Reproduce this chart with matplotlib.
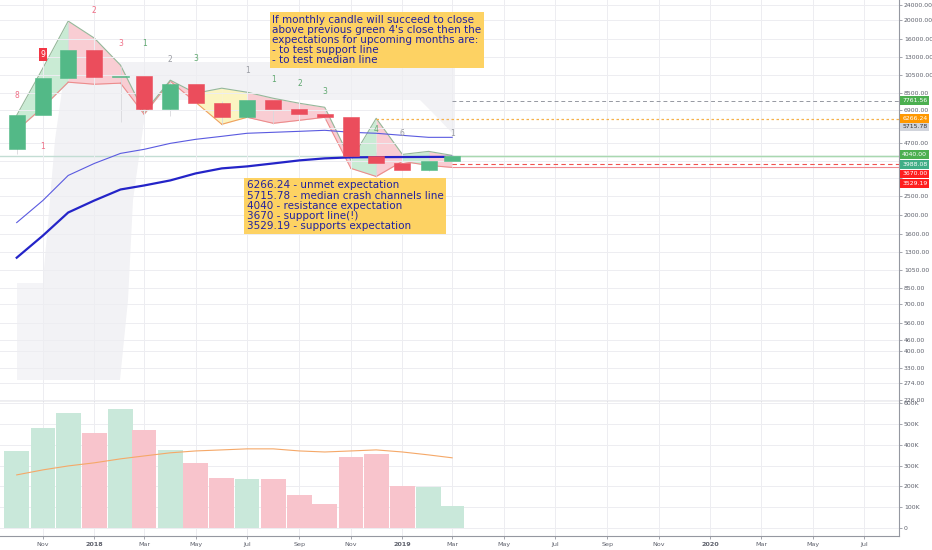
import matplotlib
matplotlib.use('Agg')
import matplotlib.pyplot as plt
import matplotlib.dates as mdates
from matplotlib.ticker import FixedLocator, NullLocator
from matplotlib.patches import Polygon
import datetime as dt

# ---------------- data ----------------
months = ['2017-10', '2017-11', '2017-12', '2018-01', '2018-02', '2018-03',
          '2018-04', '2018-05', '2018-06', '2018-07', '2018-08', '2018-09',
          '2018-10', '2018-11', '2018-12', '2019-01', '2019-02', '2019-03']
opens = [4360, 6520, 10100, 14100, 10200, 10350, 7000, 9400, 7500, 6400, 7780,
         7050, 6650, 6360, 4010, 3720, 3420, 3790]
closes = [6520, 10100, 14100, 10200, 10350, 7000, 9400, 7500, 6400, 7780, 7050,
          6650, 6360, 4010, 3720, 3420, 3790, 4040]
highs = [6470, 11400, 19700, 17100, 11700, 11600, 9750, 9950, 7750, 8480, 7760,
         7400, 7000, 6530, 4230, 4070, 4200, 4090]
lows = [4110, 5600, 10800, 9100, 6000, 6600, 6450, 7050, 5780, 6070, 5880,
        6100, 6180, 3650, 3140, 3400, 3390, 3730]
volumes = [370000, 480000, 553000, 457000, 572000, 471000, 375000, 312000,
           240000, 236000, 236000, 159000, 115000, 341000, 356000, 202000,
           197000, 106000]
volume_ma = [255000, 279000, 298000, 313000, 332000, 346000, 361000, 370000,
             375000, 380000, 380000, 370000, 365000, 370000, 375000, 365000,
             351000, 337000]
band_upper = [6520, 11380, 19850, 16230, 11790, 6755, 9870, 8460, 8980, 8560,
              7970, 7515, 7165, 3825, 6290, 4105, 4255, 4058]
band_lower = [5458, 7165, 9640, 9410, 9530, 6598, 9754, 7605, 5860, 6365, 5930,
              6145, 6365, 3480, 3163, 3780, 3605, 3520]
band_trend = ['up', 'up', 'down', 'down', 'down', 'up', 'down', 'flat', 'flat',
              'down', 'down', 'down', 'down', 'up', 'down', 'up', 'down']
median_line = [1834, 2381, 3201, 3690, 4155, 4359, 4678, 4906, 5083, 5270, 5331,
               5393, 5458, 5331, 5270, 5143, 5023, 5023]
support_line = [1211, 1572, 2066, 2381, 2712, 2844, 3019, 3279, 3480, 3563, 3690,
                3825, 3917, 3965, 3975, 3980, 3985, 3988]
count_idx = [0, 1, 1, 3, 4, 5, 6, 7, 9, 10, 11, 12, 14, 15, 17]
count_text = ['8', '9', '1', '2', '3', '1', '2', '3', '1', '1', '2', '3', '4', '6', '1']
count_price = [8260, 13430, 4515, 22620, 15300, 15300, 12660, 12800, 11110, 9990,
               9530, 8660, 5525, 5270, 5270]
count_kind = ['sell', 'sellbox', 'sell', 'sell', 'sell', 'buy', 'neutral', 'buy',
              'neutral', 'buy', 'buy', 'buy', 'buy', 'neutral', 'neutral']
price_ticks = [24000, 20000, 16000, 13000, 10500, 8500, 6900, 5600, 4700, 3800,
               3100, 2500, 2000, 1600, 1300, 1050, 850, 700, 560, 460, 400, 330,
               274, 226]
hidden_ticks = [5600, 3800, 3100]   # covered by level labels in the reference
vol_ticks = [0, 100000, 200000, 300000, 400000, 500000, 600000]
vol_tick_labels = ['0', '100K', '200K', '300K', '400K', '500K', '600K']
level_values = [7761.56, 6266.24, 5715.78, 4040.00, 3988.08, 3670.00, 3529.19]
level_label_shift_px = [0, 0, -0.5, 1, -7.5, -10, -16]
x_tick_months = ['2017-11', '2018-01', '2018-03', '2018-05', '2018-07', '2018-09',
                 '2018-11', '2019-01', '2019-03', '2019-05', '2019-07', '2019-09',
                 '2019-11', '2020-01', '2020-03', '2020-05', '2020-07']
x_tick_labels = ['Nov', '2018', 'Mar', 'May', 'Jul', 'Sep', 'Nov', '2019', 'Mar',
                 'May', 'Jul', 'Sep', 'Nov', '2020', 'Mar', 'May', 'Jul']
note1 = ("If monthly candle will succeed to close\n"
         "above previous green 4's close then the\n"
         "expectations for upcoming months are:\n"
         "- to test support line\n"
         "- to test median line")
note2 = ("6266.24 - unmet expectation\n"
         "5715.78 - median crash channels line\n"
         "4040 - resistance expectation\n"
         "3670 - support line(!)\n"
         "3529.19 - supports expectation")

# ---------------- helpers ----------------
def mnum(s):
    y, m = s.split('-')
    return mdates.date2num(dt.datetime(int(y), int(m), 1))

x = [mnum(m) for m in months]
xt = [mnum(m) for m in x_tick_months]
x0 = mnum('2017-10')
xlim = (x0 - 19.8, x0 + 1045.5)

GREEN = '#53b987'
RED = '#eb4d5c'
GRID = '#ededf1'
TXT = '#5d606b'

W, H = 932, 550
fig = plt.figure(figsize=(W / 100, H / 100), dpi=100)
ax = fig.add_axes([0, 1 - 402 / H, 899 / W, 402 / H])
av = fig.add_axes([0, 1 - 536 / H, 899 / W, 134 / H], sharex=ax)

# ---------------- price pane ----------------
ax.set_yscale('log')
ax.set_ylim(220, 25465)
ax.set_xlim(*xlim)

# decorative watermark shape (axes coordinates)
def px2ax(pts):
    return [(px / 899, 1 - py / 402) for px, py in pts]

wm = px2ax([(63, 83), (82, 62), (455, 62), (455, 136), (432, 112), (420, 100),
            (147, 100), (140, 150), (133, 200), (128, 300), (120, 380),
            (43, 380), (43, 280), (50, 200), (55, 140)])
ax.add_patch(Polygon(wm, closed=True, transform=ax.transAxes,
                     facecolor='#f2f2f5', edgecolor='none', zorder=0.2))
wm2 = px2ax([(17, 283), (43, 283), (43, 380), (17, 380)])
ax.add_patch(Polygon(wm2, closed=True, transform=ax.transAxes,
                     facecolor='#f4f4f7', edgecolor='none', zorder=0.2))

ax.yaxis.set_major_locator(FixedLocator(price_ticks))
ax.yaxis.set_minor_locator(NullLocator())
ax.set_yticklabels(['' if v in hidden_ticks else '%.2f' % v for v in price_ticks])
ax.yaxis.tick_right()
ax.tick_params(axis='y', which='major', direction='out', length=2, width=0.6,
               color='#9598a1', labelsize=4.4, labelcolor=TXT, pad=1.5)
ax.set_xticks(xt)
ax.tick_params(axis='x', which='both', length=0, labelbottom=False)
ax.grid(True, color=GRID, lw=0.7, zorder=0.1)
for s in ['top', 'left']:
    ax.spines[s].set_visible(False)
ax.spines['right'].set_color('#9598a1')
ax.spines['right'].set_linewidth(0.8)
ax.spines['bottom'].set_color('#8a8d96')
ax.spines['bottom'].set_linewidth(0.9)

# band
fill_col = {'up': '#c9ebd4', 'down': '#f9cdd3', 'flat': '#fbf4c2'}
for i, tr in enumerate(band_trend):
    ax.fill_between(x[i:i + 2], band_lower[i:i + 2], band_upper[i:i + 2],
                    color=fill_col[tr], lw=0, zorder=1)
    lc = '#f0a060' if tr == 'flat' else '#ec8c8c'
    ax.plot(x[i:i + 2], band_lower[i:i + 2], color=lc, lw=0.8, zorder=1.2)
ax.plot(x, band_upper, color='#95b89a', lw=0.8, zorder=1.2)

# full width price line
ax.axhline(4040, color='#c3ddd4', lw=1.0, zorder=0.8)

# crash channel lines
ax.plot(x, median_line, color='#5a5ae0', lw=0.8, zorder=2)
ax.plot(x, support_line, color='#2424c8', lw=1.6, zorder=2)

# candles
for xi, o, c, hi, lo in zip(x, opens, closes, highs, lows):
    col = GREEN if c >= o else RED
    ax.vlines(xi, lo, hi, color='#d8d8dc', lw=0.6, zorder=1.5)
    ax.bar(xi, c - o, bottom=o, width=19, color=col, edgecolor=col,
           lw=0.4, zorder=3)

# levels
xs = mnum('2019-03')
ax.hlines(7761.56, xs, xlim[1], colors='#9598a1', linestyles=(0, (4, 3)), lw=0.7, zorder=2)
ax.hlines(6266.24, mnum('2018-12'), xlim[1], colors='#f5b14c', linestyles=(0, (2, 2)), lw=0.9, zorder=2)
ax.hlines(4040.00, xs - 9, xlim[1], colors='#a9d8b0', lw=1.0, zorder=2)
ax.hlines(3670.00, xs, xlim[1], colors='#ef5350', linestyles=(0, (4, 3)), lw=0.8, zorder=2)
ax.hlines(3529.19, xs, xlim[1], colors='#f08a90', lw=0.8, zorder=2)

# count labels
kcol = {'sell': '#ef6f86', 'sellbox': 'white', 'buy': '#5fa86f', 'neutral': '#9a9ca3'}
for i, t, p, k in zip(count_idx, count_text, count_price, count_kind):
    if k == 'sellbox':
        ax.text(x[i], p, t, ha='center', va='center', fontsize=5.5, color='white',
                zorder=5, bbox=dict(boxstyle='square,pad=0.25', fc='#f23645', ec='none'))
    else:
        ax.text(x[i], p, t, ha='center', va='center', fontsize=5.5,
                color=kcol[k], zorder=5)

# notes
box = dict(boxstyle='square,pad=0.25', fc='#fdd263', ec='none')
ax.text(mdates.date2num(dt.datetime(2018, 7, 31)), 21400, note1, ha='left', va='top',
        fontsize=7.45, color='#2121a0', linespacing=1.02, zorder=6, bbox=box)
ax.text(mdates.date2num(dt.datetime(2018, 7, 1)), 3020, note2, ha='left', va='top',
        fontsize=7.5, color='#2121a0', linespacing=1.03, zorder=6, bbox=box)

# right-side level labels
lab_bg = ['#4caf50', '#ff9800', '#d1d4dc', '#4caf50', '#3fae86', '#ff1f1f', '#ff1f1f']
lab_fg = ['white', 'white', '#333333', 'white', 'white', 'white', 'white']
for v, sh, bg, fg in zip(level_values, level_label_shift_px, lab_bg, lab_fg):
    ax.annotate('%.2f' % v, xy=(1, v), xycoords=('axes fraction', 'data'),
                xytext=(2.3, sh * 0.72), textcoords='offset points', ha='left',
                va='center', fontsize=4.4, color=fg, annotation_clip=False, zorder=7,
                bbox=dict(boxstyle='square,pad=0.3', fc=bg, ec='none'))

# ---------------- volume pane ----------------
av.set_ylim(-38400, 605000)
vcols = ['#c9e8da' if c >= o else '#f8c4cc' for o, c in zip(opens, closes)]
av.bar(x, volumes, width=29.2, color=vcols, lw=0, zorder=1)
av.plot(x, volume_ma, color='#f5a868', lw=0.8, zorder=2)
av.yaxis.set_major_locator(FixedLocator(vol_ticks))
av.set_yticklabels(vol_tick_labels)
av.yaxis.tick_right()
av.tick_params(axis='y', direction='out', length=2, width=0.6, color='#9598a1',
               labelsize=4.4, labelcolor=TXT, pad=1.5)
av.set_xticks(xt)
av.set_xticklabels(x_tick_labels)
for lbl in av.get_xticklabels():
    if lbl.get_text().isdigit():
        lbl.set_fontweight('bold')
av.tick_params(axis='x', direction='out', length=2, width=0.6, color='#9598a1',
               labelsize=4.6, labelcolor=TXT, pad=2.5)
av.grid(True, color=GRID, lw=0.7, zorder=0)
av.set_axisbelow(True)
av.set_xlim(*xlim)
for s in ['top', 'left']:
    av.spines[s].set_visible(False)
av.spines['right'].set_color('#9598a1')
av.spines['right'].set_linewidth(0.8)
av.spines['bottom'].set_color('#9598a1')
av.spines['bottom'].set_linewidth(0.8)

fig.savefig('out.png', dpi=100, facecolor='white')
